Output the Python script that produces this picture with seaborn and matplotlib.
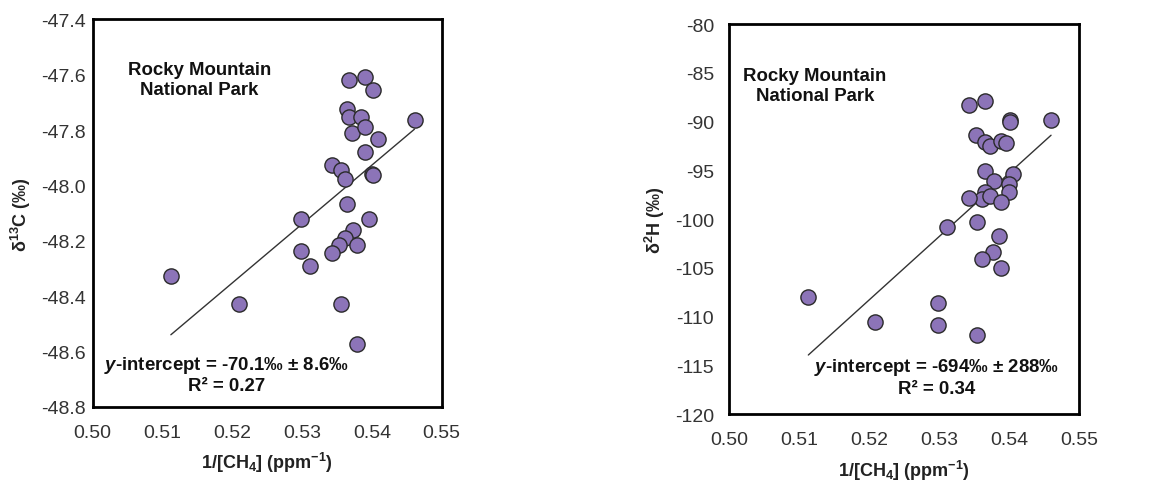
import numpy as np
import pandas as pd
import matplotlib
matplotlib.use("Agg")
import matplotlib.pyplot as plt
import seaborn as sns

# ---- data ----
x_c13 = [0.5112, 0.5209, 0.5299, 0.5299, 0.5311, 0.5343, 0.5356, 0.5362,
         0.5367, 0.5365, 0.5367, 0.5371, 0.5365, 0.5373, 0.5361, 0.5353,
         0.5343, 0.5378, 0.5355, 0.5378, 0.5390, 0.5402, 0.5384, 0.5390,
         0.5408, 0.5390, 0.5400, 0.5402, 0.5396, 0.5461]
d13c = [-48.328, -48.429, -48.122, -48.236, -48.290, -47.925, -47.945, -47.978,
        -47.619, -47.725, -47.751, -47.811, -48.068, -48.160, -48.190, -48.216,
        -48.242, -48.214, -48.428, -48.574, -47.607, -47.655, -47.753, -47.789,
        -47.832, -47.880, -47.957, -47.962, -48.122, -47.763]

x_d2h = [0.5113, 0.5208, 0.5299, 0.5299, 0.5311, 0.5343, 0.5366, 0.5353,
         0.5366, 0.5373, 0.5388, 0.5396, 0.5401, 0.5402, 0.5460, 0.5365,
         0.5378, 0.5406, 0.5400, 0.5400, 0.5366, 0.5361, 0.5373, 0.5343,
         0.5389, 0.5354, 0.5385, 0.5377, 0.5361, 0.5389, 0.5354]
d2h = [-107.95, -110.56, -108.57, -110.90, -100.79, -88.28, -87.87, -91.36,
       -92.05, -92.46, -91.95, -92.19, -89.89, -90.05, -89.89, -95.03,
       -96.06, -95.37, -96.40, -97.19, -97.19, -97.94, -97.60, -97.88,
       -98.29, -100.27, -101.78, -103.36, -104.11, -105.07, -111.93]

x_ticks = [0.50, 0.51, 0.52, 0.53, 0.54, 0.55]
y_ticks_c13 = [-48.8, -48.6, -48.4, -48.2, -48.0, -47.8, -47.6, -47.4]
y_ticks_d2h = [-120, -115, -110, -105, -100, -95, -90, -85, -80]

site_label = "Rocky Mountain\nNational Park"
stats_c13 = "$\\mathit{y}$-intercept = -70.1‰ ± 8.6‰\nR² = 0.27"
stats_d2h = "$\\mathit{y}$-intercept = -694‰ ± 288‰\nR² = 0.34"

# ---- style ----
sns.set_theme(style="white")
plt.rcParams['font.family'] = ['Liberation Sans', 'DejaVu Sans']
plt.rcParams['mathtext.fontset'] = 'custom'
plt.rcParams['mathtext.rm'] = 'Liberation Sans'
plt.rcParams['mathtext.bf'] = 'Liberation Sans:bold'
plt.rcParams['mathtext.it'] = 'Liberation Sans:bold:italic'

purple = "#8c74b8"
edge = "#2a2a2a"

fig = plt.figure(figsize=(11.6, 4.85), dpi=100)
ax1 = fig.add_axes([0.0799, 0.1588, 0.3009, 0.7990])
ax2 = fig.add_axes([0.6287, 0.1443, 0.3015, 0.8041])

df1 = pd.DataFrame({"x": x_c13, "y": d13c})
df2 = pd.DataFrame({"x": x_d2h, "y": d2h})

for ax, df, yt, ylab, stats, sx, sy, tx, ty, ypad in [
    (ax1, df1, y_ticks_c13, "δ$^{\\mathbf{13}}$C (‰)", stats_c13, 0.305, 0.845, 0.384, 0.085, 5),
    (ax2, df2, y_ticks_d2h, "δ$^{\\mathbf{2}}$H (‰)", stats_d2h, 0.245, 0.842, 0.593, 0.096, 11),
]:
    sns.regplot(data=df, x="x", y="y", ax=ax, scatter=False, ci=None,
                line_kws=dict(color="#333333", lw=1.0), truncate=True)
    sns.scatterplot(data=df, x="x", y="y", ax=ax, s=120, color=purple,
                    edgecolor=edge, linewidth=1.0, zorder=3, legend=False)
    ax.set_xlim(x_ticks[0], x_ticks[-1])
    ax.set_ylim(yt[0], yt[-1])
    ax.set_xticks(x_ticks)
    ax.set_xticklabels([f"{v:.2f}" for v in x_ticks])
    ax.set_yticks(yt)
    if ax is ax1:
        ax.set_yticklabels([f"{v:.1f}" for v in yt])
    else:
        ax.set_yticklabels([f"{v:d}" for v in yt])
    ax.tick_params(axis="both", direction="in", length=4, width=0.8,
                   color="#777777", labelsize=14, labelcolor="#333333")
    ax.tick_params(axis="x", pad=12)
    ax.tick_params(axis="y", length=0, pad=ypad)
    for sp in ax.spines.values():
        sp.set_color("black")
        sp.set_linewidth(2.0)
    ax.set_xlabel("1/[CH$_\\mathbf{4}$] (ppm$^{\\mathbf{-1}}$)", fontsize=13,
                  fontweight="bold", color="#222222", labelpad=7)
    ax.set_ylabel(ylab, fontsize=13, fontweight="bold", color="#222222", labelpad=6)
    ax.text(sx, sy, site_label, transform=ax.transAxes, ha="center", va="center",
            fontsize=13.4, fontweight="bold", color="#111111", linespacing=1.2)
    ax.text(tx, ty, stats, transform=ax.transAxes, ha="center", va="center",
            fontsize=13.4, fontweight="bold", color="#111111", linespacing=1.2)

fig.savefig("out.png", dpi=100)
